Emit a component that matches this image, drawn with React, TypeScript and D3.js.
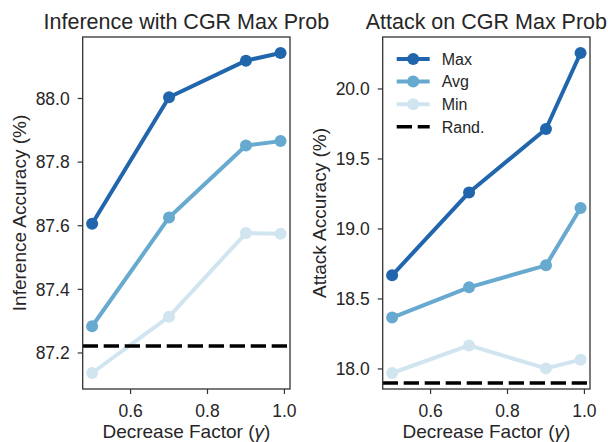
import { useMemo } from 'react';
import * as d3 from 'd3';

// Decrease factor (gamma) on the x axis, shared by both panels
const GAMMA = [0.5, 0.7, 0.9, 0.99];

// Left panel — inference accuracy (%)
const INF_MAX = [87.606, 88.004, 88.119, 88.143];
const INF_AVG = [87.284, 87.626, 87.852, 87.866];
const INF_MIN = [87.137, 87.314, 87.577, 87.575];
const INF_RAND = 87.222;
const INF_TICKS = [87.2, 87.4, 87.6, 87.8, 88.0];

// Right panel — attack accuracy (%)
const ATK_MAX = [18.669, 19.261, 19.714, 20.257];
const ATK_AVG = [18.367, 18.583, 18.74, 19.15];
const ATK_MIN = [17.971, 18.168, 18.004, 18.066];
const ATK_RAND = 17.9;
const ATK_TICKS = [18.0, 18.5, 19.0, 19.5, 20.0];

const X_TICKS = [0.6, 0.8, 1.0];
const SERIES_NAMES = ['Max', 'Avg', 'Min'];
const COLORS = ['#2166ac', '#67a9cf', '#d1e5f0'];

const W = 608;
const H = 442;
const TOP = 37;
const BOTTOM = 389;
const FONT = "'Liberation Sans', Arial, sans-serif";
const INK = '#262626';
const FRAME = '#333333';
const LW = 4;
const MR = 6;
const DASH = '15.3 5.7';

// matplotlib-style 5% padding around the data extent
function padded(values: number[]): [number, number] {
  const [lo, hi] = d3.extent(values) as [number, number];
  const m = (hi - lo) * 0.05;
  return [lo - m, hi + m];
}

interface PanelProps {
  left: number;
  right: number;
  title: string;
  yLabel: string;
  series: number[][];
  rand: number;
  yTicks: number[];
  legend?: boolean;
}

function Panel({ left, right, title, yLabel, series, rand, yTicks, legend }: PanelProps) {
  const x = useMemo(() => d3.scaleLinear().domain(padded(GAMMA)).range([left, right]), [left, right]);
  const y = useMemo(
    () => d3.scaleLinear().domain(padded(series.flat())).range([BOTTOM, TOP]),
    [series],
  );
  const line = d3
    .line<number>()
    .x((_, i) => x(GAMMA[i]))
    .y((d) => y(d));
  const cx = (left + right) / 2;

  return (
    <g fontFamily={FONT}>
      {/* Title */}
      <text x={cx} y={29} textAnchor="middle" fontSize={21.5} fill={INK}>{title}</text>

      {/* Series */}
      {series.map((s, k) => (
        <g key={k}>
          <path d={line(s) ?? ''} fill="none" stroke={COLORS[k]} strokeWidth={LW} strokeLinejoin="round" />
          {s.map((v, i) => (
            <circle key={i} cx={x(GAMMA[i])} cy={y(v)} r={MR} fill={COLORS[k]} />
          ))}
        </g>
      ))}

      {/* Random baseline */}
      <line
        x1={left} x2={right} y1={y(rand)} y2={y(rand)}
        stroke="#000" strokeWidth={3.5} strokeDasharray={DASH}
      />

      {/* Frame */}
      <rect x={left} y={TOP} width={right - left} height={BOTTOM - TOP} fill="none" stroke={FRAME} strokeWidth={1.3} />

      {/* Y ticks */}
      {yTicks.map((t) => (
        <g key={t}>
          <line x1={left - 5} x2={left} y1={y(t)} y2={y(t)} stroke={FRAME} strokeWidth={1.2} />
          <text x={left - 13} y={y(t)} dy="0.36em" textAnchor="end" fontSize={17.5} fill={INK}>
            {t.toFixed(1)}
          </text>
        </g>
      ))}

      {/* X ticks */}
      {X_TICKS.map((t) => (
        <g key={t}>
          <line x1={x(t)} x2={x(t)} y1={BOTTOM} y2={BOTTOM + 5} stroke={FRAME} strokeWidth={1.2} />
          <text x={x(t)} y={BOTTOM + 27.5} textAnchor="middle" fontSize={17.5} fill={INK}>
            {t.toFixed(1)}
          </text>
        </g>
      ))}

      {/* Axis labels */}
      <text x={cx} y={437.5} textAnchor="middle" fontSize={19} fill={INK}>
        Decrease Factor (<tspan fontStyle="italic">γ</tspan>)
      </text>
      <text
        transform={`translate(${left - 57}, ${(TOP + BOTTOM) / 2}) rotate(-90)`}
        textAnchor="middle" fontSize={19} fill={INK}
      >
        {yLabel}
      </text>

      {legend && (
        <g>
          {SERIES_NAMES.map((name, k) => {
            const ly = 59 + k * 22.6;
            return (
              <g key={name}>
                <line x1={left + 14} x2={left + 47} y1={ly} y2={ly} stroke={COLORS[k]} strokeWidth={LW} />
                <circle cx={left + 30.5} cy={ly} r={MR} fill={COLORS[k]} />
                <text x={left + 59} y={ly} dy="0.36em" fontSize={16} fill={INK}>{name}</text>
              </g>
            );
          })}
          <line
            x1={left + 14} x2={left + 47} y1={59 + 3 * 22.6} y2={59 + 3 * 22.6}
            stroke="#000" strokeWidth={3.5} strokeDasharray={DASH}
          />
          <text x={left + 59} y={59 + 3 * 22.6} dy="0.36em" fontSize={16} fill={INK}>Rand.</text>
        </g>
      )}
    </g>
  );
}

export default function App() {
  return (
    <svg width={W} height={H} style={{ display: 'block', position: 'absolute', left: 0, top: 0, background: '#fff' }}>
      <Panel
        left={82.7} right={290}
        title="Inference with CGR Max Prob"
        yLabel="Inference Accuracy (%)"
        series={[INF_MAX, INF_AVG, INF_MIN]}
        rand={INF_RAND}
        yTicks={INF_TICKS}
      />
      <Panel
        left={382.7} right={590}
        title="Attack on CGR Max Prob"
        yLabel="Attack Accuracy (%)"
        series={[ATK_MAX, ATK_AVG, ATK_MIN]}
        rand={ATK_RAND}
        yTicks={ATK_TICKS}
        legend
      />
    </svg>
  );
}
